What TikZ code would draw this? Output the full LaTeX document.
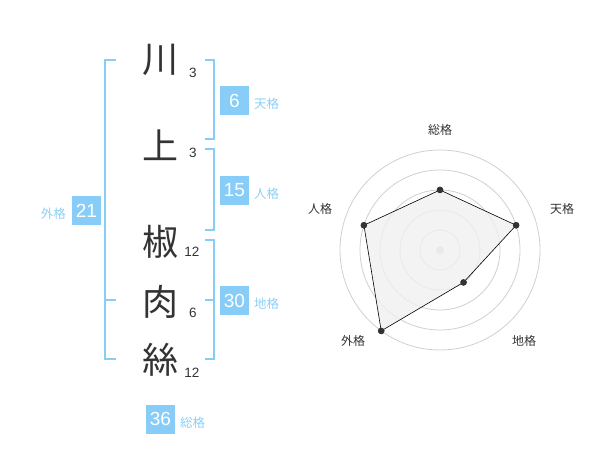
\documentclass[tikz,border=0pt]{standalone}
\usepackage{fontspec}
\setmainfont{Liberation Sans}
\newfontfamily\jp{Noto Sans CJK JP}
\definecolor{hellblau}{HTML}{88CDF8}
\definecolor{textblau}{HTML}{8DCFF5}
\definecolor{dunkel}{HTML}{333333}
\definecolor{kreisgrau}{HTML}{CFCFCF}
\tikzset{
  kanji/.style={inner sep=0pt,text=dunkel,font=\jp\fontsize{36}{36}\selectfont},
  strich/.style={inner sep=0pt,text=dunkel,font=\fontsize{13.5}{13.5}\selectfont},
  zahl/.style={fill=hellblau,text=white,minimum size=29pt,inner sep=0pt,font=\fontsize{19}{19}\selectfont},
  grad/.style={inner sep=0pt,text=textblau,font=\jp\fontsize{12.5}{12.5}\selectfont},
  klammer/.style={draw=hellblau,line width=2pt},
  punkt/.style={circle,fill=dunkel,minimum size=6.5pt,inner sep=0pt},
  achse/.style={inner sep=0pt,text=dunkel,font=\jp\fontsize{12}{12}\selectfont}
}
\begin{document}
\begin{tikzpicture}[x=1pt,y=-1pt]
  \useasboundingbox (0,0) rectangle (600,470);
  % Zeichen
  \node[kanji] (k1) at (160,60) {川};
  \node[kanji] (k2) at (160,145) {上};
  \node[kanji] (k3) at (160,242) {椒};
  \node[kanji] (k4) at (160,302) {肉};
  \node[kanji] (k5) at (160,360) {絲};
  \node[strich] (s1) at (193,73) {3};
  \node[strich] (s2) at (193,153) {3};
  \node[strich] (s3) at (192,252) {12};
  \node[strich] (s4) at (193,313) {6};
  \node[strich] (s5) at (192,373) {12};

  % Klammern
  \draw[klammer] (116,60) -- (105,60) -- (105,359) -- (116,359);
  \draw[klammer] (105,300) -- (116,300);
  \draw[klammer] (205,60) -- (214,60) -- (214,139) -- (205,139);
  \draw[klammer] (205,149) -- (214,149) -- (214,230) -- (205,230);
  \draw[klammer] (205,240) -- (214,240) -- (214,359) -- (205,359);
  \draw[klammer] (214,300) -- (205,300);

  % Kaestchen
  \node[zahl] (ten) at (234.5,100.5) {6};
  \node[zahl] (jin) at (234.5,190.5) {15};
  \node[zahl] (gai) at (86.5,210.5) {21};
  \node[zahl] (chi) at (234.5,300.5) {30};
  \node[zahl] (so) at (160.5,419) {36};
  \node[grad,anchor=west] (tenL) at (254,104) {天格};
  \node[grad,anchor=west] (jinL) at (254,194) {人格};
  \node[grad,anchor=east] (gaiL) at (66,214) {外格};
  \node[grad,anchor=west] (chiL) at (254,304) {地格};
  \node[grad,anchor=west] (soL) at (180,423) {総格};

  % Netzdiagramm
  \begin{scope}[shift={(440,250)},y=1pt]
    \foreach \r in {20,40,60,80,100}
      \draw[kreisgrau,line width=0.8pt] (0,0) circle (\r);
    \fill[kreisgrau] (0,0) circle (4);
    \foreach \w/\r/\n in {90/60/so,18/80/ten,-54/40/chi,-126/100/gai,162/80/jin}
      \node[punkt] (p\n) at (\w:\r) {};
    \draw[fill=black!6,fill opacity=0.8,line width=0.6pt] (pso.center) -- (pten.center)
      -- (pchi.center) -- (pgai.center) -- (pjin.center) -- cycle;
    \foreach \n in {so,ten,chi,gai,jin}
      \node[punkt] at (p\n) {};
    \node[achse] (aso) at (0,120) {総格};
    \node[achse] (aten) at (122,41) {天格};
    \node[achse] (achi) at (84,-91) {地格};
    \node[achse] (agai) at (-87,-91) {外格};
    \node[achse] (ajin) at (-120,41) {人格};
  \end{scope}
\end{tikzpicture}
\end{document}
